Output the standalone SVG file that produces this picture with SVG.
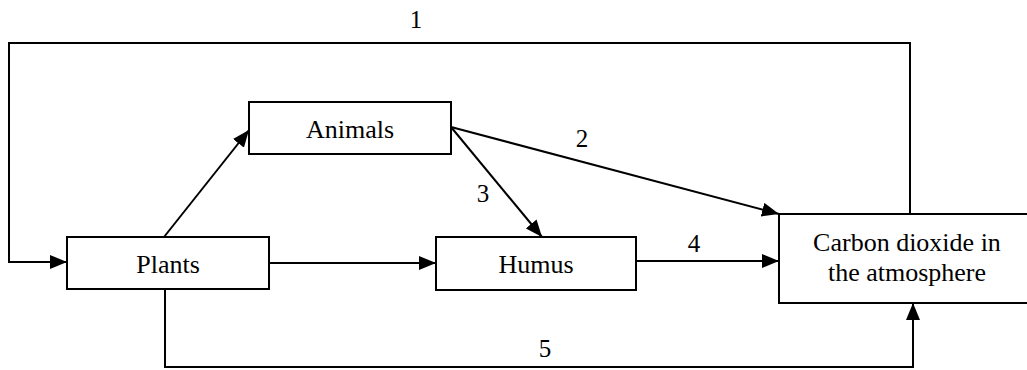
<svg xmlns="http://www.w3.org/2000/svg" width="1027" height="370" viewBox="0 0 1027 370">
  <style>
    .box { fill: #ffffff; stroke: #000000; stroke-width: 2; }
    text { font-family: "Liberation Serif", "Times New Roman", Times, serif; fill: #000000; text-anchor: middle; }
    .label { font-size: 26px; }
    .num { font-size: 25px; }
    .edge { fill: none; stroke: #000000; stroke-width: 2; marker-end: url(#arrow); }
  </style>
  <defs>
    <marker id="arrow" markerUnits="userSpaceOnUse" markerWidth="17" markerHeight="14" viewBox="0 0 17 14" refX="17" refY="7" orient="auto">
      <path d="M0,0 L17,7 L0,14 Z" fill="#000000"/>
    </marker>
  </defs>
  <rect width="1027" height="370" fill="#ffffff"/>

  <!-- connectors -->
  <g id="connectors">
    <!-- 1: atmosphere back to plants -->
    <path class="edge" d="M910,214 V43 H9 V262 H67"/>
    <!-- plants to animals -->
    <path class="edge" d="M164,237 L249,130"/>
    <!-- 2: animals to atmosphere -->
    <path class="edge" d="M451,127 L779,214"/>
    <!-- 3: animals to humus -->
    <path class="edge" d="M451,127 L542,237"/>
    <!-- plants to humus -->
    <path class="edge" d="M269,263 H436"/>
    <!-- 4: humus to atmosphere -->
    <path class="edge" d="M636,261 H779"/>
    <!-- 5: plants to atmosphere -->
    <path class="edge" d="M165,289 V367 H913 V303"/>
    <text class="num" x="416" y="28">1</text>
    <text class="num" x="582" y="147">2</text>
    <text class="num" x="483" y="202">3</text>
    <text class="num" x="694" y="252">4</text>
    <text class="num" x="545" y="357">5</text>
  </g>

  <g id="plants">
    <rect class="box" x="67" y="237" width="202" height="52"/>
    <text class="label" x="168" y="273">Plants</text>
  </g>
  <g id="animals">
    <rect class="box" x="249" y="102" width="202" height="52"/>
    <text class="label" x="350" y="138">Animals</text>
  </g>
  <g id="humus">
    <rect class="box" x="436" y="237" width="200" height="53"/>
    <text class="label" x="536" y="273">Humus</text>
  </g>
  <g id="atmosphere">
    <rect class="box" x="779" y="214" width="258" height="89"/>
    <text class="label" x="907" y="251">Carbon dioxide in</text>
    <text class="label" x="907" y="281">the atmosphere</text>
  </g>
</svg>
